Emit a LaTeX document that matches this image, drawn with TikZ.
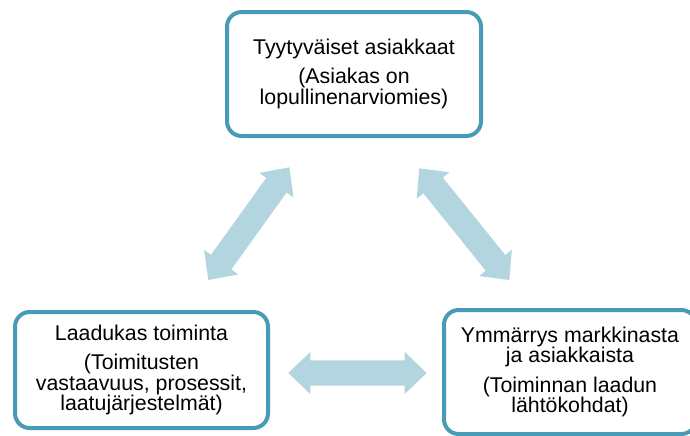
\documentclass[tikz,border=0pt]{standalone}
\usepackage{fontspec}
\setmainfont{Liberation Sans}
\usetikzlibrary{calc}

\definecolor{frameblue}{RGB}{72,155,182}
\definecolor{arrowblue}{RGB}{179,213,224}

\tikzset{
  stage/.style={draw=frameblue, line width=3pt, rounded corners=11pt,
    fill=white, align=center, inner sep=0pt,
    font=\fontsize{16}{15.5}\selectfont},
  blockfill/.style={fill=arrowblue, draw=none},
}

% Double-headed block arrow between two named points #1 and #2
\newcommand\blockarrow[2]{%
  \path ($(#1)!16.5pt!(#2)$) coordinate (ba)
        ($(#2)!16.5pt!(#1)$) coordinate (bb);
  \fill[blockfill] (#1)
    -- ($(ba)!15.75pt!90:(#2)$) -- ($(ba)!9.4pt!90:(#2)$)
    -- ($(bb)!9.4pt!-90:(#1)$) -- ($(bb)!15.75pt!-90:(#1)$)
    -- (#2)
    -- ($(bb)!15.75pt!90:(#1)$) -- ($(bb)!9.4pt!90:(#1)$)
    -- ($(ba)!9.4pt!-90:(#2)$) -- ($(ba)!15.75pt!-90:(#2)$)
    -- cycle;}

\begin{document}
\begin{tikzpicture}[x=0.75pt,y=-0.75pt]
  \useasboundingbox (0,0) rectangle (690,436);
  \clip (0,0) rectangle (690,436);

  % the three stages
  \node[stage, minimum width=190.5pt, minimum height=93pt] (asiakkaat) at (354,74)
    {Tyytyväiset asiakkaat\\[6.5pt](Asiakas on\\lopullinenarviomies)};
  \node[stage, minimum width=189.75pt, minimum height=87pt] (toiminta) at (141.5,370)
    {Laadukas toiminta\\[6.5pt](Toimitusten\\vastaavuus, prosessit,\\laatujärjestelmät)};
  \node[stage, minimum width=189pt, minimum height=93pt] (ymmarrys) at (570,372)
    {Ymmärrys markkinasta\\ja asiakkaista\\[6.5pt](Toiminnan laadun\\lähtökohdat)};

  % ends of the block arrows
  \coordinate (toiminta-up) at (208.3,280);
  \coordinate (asiakkaat-left) at (289.3,167.3);
  \coordinate (asiakkaat-right) at (419.3,168.3);
  \coordinate (ymmarrys-up) at (509.3,280);
  \coordinate (toiminta-right) at (288.3,373);
  \coordinate (ymmarrys-left) at (426.7,373);

  \blockarrow{toiminta-up}{asiakkaat-left}
  \blockarrow{asiakkaat-right}{ymmarrys-up}
  \blockarrow{toiminta-right}{ymmarrys-left}
\end{tikzpicture}
\end{document}
